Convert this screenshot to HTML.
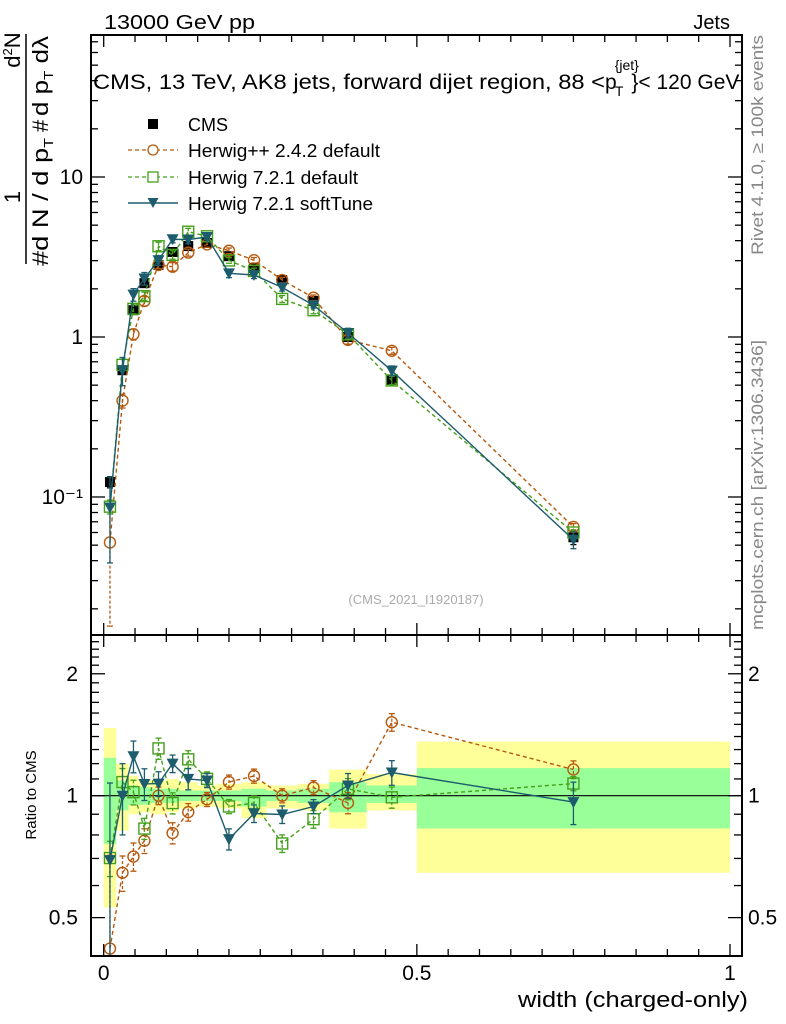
<!DOCTYPE html>
<html><head><meta charset="utf-8">
<style>
html,body{margin:0;padding:0;background:#fff;width:786px;height:1024px;overflow:hidden;}
svg{display:block;font-family:"Liberation Sans",sans-serif;}
</style></head>
<body>
<svg id="chart" width="786" height="1024" viewBox="0 0 786 1024" xmlns="http://www.w3.org/2000/svg">
<defs>
<clipPath id="clipMain"><rect x="91" y="35" width="651" height="600"/></clipPath>
<clipPath id="clipRatio"><rect x="91" y="635" width="651" height="321"/></clipPath>
</defs>
<g id="bands" clip-path="url(#clipRatio)"></g>
<g id="series"></g>
<g id="axes"></g>
<text x="104" y="29" font-size="20" textLength="151" lengthAdjust="spacingAndGlyphs">13000 GeV pp</text>
<text x="730" y="29" font-size="20" text-anchor="end">Jets</text>
<text x="93" y="89" font-size="21"><tspan textLength="512" lengthAdjust="spacingAndGlyphs">CMS, 13 TeV, AK8 jets, forward dijet region, 88 &lt;</tspan><tspan>p</tspan><tspan dy="-19" dx="-2" font-size="14">{jet}</tspan><tspan dx="-24" dy="26" font-size="14">T</tspan><tspan dx="8" dy="-7">}&lt; 120 GeV</tspan></text>
<text x="416" y="604" font-size="13" fill="#aaa" text-anchor="middle">(CMS_2021_I1920187)</text>
<text transform="translate(763,255) rotate(-90)" font-size="17" fill="#888" textLength="220" lengthAdjust="spacingAndGlyphs">Rivet 4.1.0, ≥ 100k events</text>
<text transform="translate(763,630) rotate(-90)" font-size="17" fill="#888" textLength="290" lengthAdjust="spacingAndGlyphs">mcplots.cern.ch [arXiv:1306.3436]</text>
<g>
<text transform="translate(20,197) rotate(-90)" font-size="22" text-anchor="middle">1</text>
<text transform="translate(20,50) rotate(-90)" font-size="22" text-anchor="middle">d<tspan font-size="13" dy="-8">2</tspan><tspan dy="8">N</tspan></text>
<line x1="26" y1="264" x2="26" y2="34" stroke="#000" stroke-width="1.5"/>
<text transform="translate(48,266) rotate(-90)" font-size="22" textLength="128" lengthAdjust="spacingAndGlyphs">#d N / d p<tspan font-size="13" dy="5">T</tspan></text>
<text transform="translate(48,132) rotate(-90)" font-size="22">#</text>
<text transform="translate(48,116) rotate(-90)" font-size="22" textLength="80" lengthAdjust="spacingAndGlyphs">d p<tspan font-size="13" dy="5">T</tspan><tspan dy="-5"> dλ</tspan></text>
</g>
<text transform="translate(36,795) rotate(-90)" font-size="15" text-anchor="middle">Ratio to CMS</text>
<text x="748" y="1007" font-size="22" text-anchor="end" textLength="230" lengthAdjust="spacingAndGlyphs">width (charged-only)</text>
<g>
<g><rect x="148" y="119" width="10" height="10" fill="#000"/><text x="188" y="131" font-size="18">CMS</text></g>
<g><line x1="128" y1="150" x2="178" y2="150" stroke="#b5590e" stroke-dasharray="4,3" stroke-width="1.3"/><circle cx="153" cy="150" r="5" fill="#fff" stroke="#b5590e" stroke-width="1.3"/><text x="188" y="157" font-size="18" textLength="192" lengthAdjust="spacingAndGlyphs">Herwig++ 2.4.2 default</text></g>
<g><line x1="128" y1="177" x2="178" y2="177" stroke="#44a01a" stroke-dasharray="4,3" stroke-width="1.3"/><rect x="148" y="172" width="10" height="10" fill="#fff" stroke="#44a01a" stroke-width="1.3"/><text x="188" y="184" font-size="18" textLength="170" lengthAdjust="spacingAndGlyphs">Herwig 7.2.1 default</text></g>
<g><line x1="128" y1="203" x2="178" y2="203" stroke="#1d5c6c" stroke-width="1.5"/><path d="M147.5,198 L158.5,198 L153,208 Z" fill="#1d5c6c"/><text x="188" y="210" font-size="18" textLength="185" lengthAdjust="spacingAndGlyphs">Herwig 7.2.1 softTune</text></g>
</g>
</svg>
<script>
const binEdges=[0,0.02,0.04,0.055,0.075,0.1,0.12,0.15,0.18,0.22,0.26,0.31,0.36,0.42,0.5,1];
const cmsVals=[0.124,0.62,1.47,2.17,2.82,3.4,3.7,3.87,3.2,2.7,2.27,1.68,1.0,0.54,0.056];
const herwigppVals=[0.052,0.40,1.04,1.68,2.82,2.75,3.37,3.79,3.46,3.02,2.27,1.76,0.96,0.82,0.065];
const herwig721Vals=[0.087,0.67,1.50,1.80,3.69,3.26,4.55,4.26,3.01,2.59,1.73,1.47,1.04,0.535,0.060];
const softTuneVals=[0.086,0.62,1.84,2.32,3.02,4.08,4.07,4.22,2.50,2.44,2.04,1.58,1.06,0.616,0.054];
const herwigppErr=[0.7,0.1,0.08,0.07,0.05,0.06,0.05,0.04,0.04,0.04,0.04,0.04,0.06,0.05,0.05];
const herwig721Err=[0.1,0.08,0.07,0.06,0.06,0.06,0.05,0.04,0.04,0.04,0.05,0.05,0.06,0.06,0.04];
const softTuneErr=[0.55,0.2,0.09,0.09,0.07,0.05,0.06,0.04,0.06,0.05,0.05,0.04,0.07,0.07,0.12];
const cmsErr=[0.08,0.05,0.04,0.04,0.03,0.03,0.03,0.03,0.03,0.03,0.03,0.03,0.04,0.05,0.1];
const bandTotUp=[1.47,1.20,1.12,1.10,1.09,1.10,1.08,1.06,1.07,1.08,1.06,1.07,1.16,1.13,1.36];
const bandTotDn=[0.53,0.82,0.90,0.91,0.90,0.91,0.93,0.94,0.93,0.88,0.93,0.92,0.83,0.92,0.645];
const bandStatUp=[1.24,1.09,1.06,1.05,1.04,1.04,1.03,1.03,1.03,1.04,1.03,1.04,1.08,1.06,1.17];
const bandStatDn=[0.76,0.92,0.95,0.95,0.96,0.96,0.97,0.97,0.97,0.94,0.97,0.96,0.91,0.96,0.83];
const xTicksMajor=[0,0.5,1];
const xTickLabels=["0","0.5","1"];
const yTicksMain=[0.1,1,10];
const yTickLabelsMain=["10\u207B\u00B9","1","10"];
const yTicksRatio=[0.5,1,2];
const yTickLabelsRatio=["0.5","1","2"];

const NS="http://www.w3.org/2000/svg";
const X0=91,X1=742,MT=35,MB=635,RT=635,RB=956;
function xs(v){return 103.7+626.3*v;}
function ym(v){return 337-160*Math.log10(v);}
function yr(v){return 795.7-405*Math.log10(v);}
function mk(tag,attrs,parent){const e=document.createElementNS(NS,tag);for(const k in attrs)e.setAttribute(k,attrs[k]);parent.appendChild(e);return e;}
const axes=document.getElementById('axes');
const bands=document.getElementById('bands');
const ser=document.getElementById('series');

for(let i=0;i<cmsVals.length;i++){
  const x=xs(binEdges[i]),w=xs(binEdges[i+1])-x;
  const a=mk('rect',{x:x,y:yr(bandTotUp[i]),width:w,height:yr(bandTotDn[i])-yr(bandTotUp[i]),fill:'#ffff99'},bands);
  
  
  const b=mk('rect',{x:x,y:yr(bandStatUp[i]),width:w,height:yr(bandStatDn[i])-yr(bandStatUp[i]),fill:'#99ff99'},bands);
  
  
}
const one=mk('line',{x1:X0,x2:X1,y1:yr(1),y2:yr(1),stroke:'#000','stroke-width':1.2},bands);



function frame(t,b,name){const r=mk('rect',{x:X0,y:t,width:X1-X0,height:b-t,fill:'none',stroke:'#000','stroke-width':2},axes);}
frame(MT,MB,'main-plot-frame');frame(RT,RB,'ratio-plot-frame');
function tk(x1,y1,x2,y2){mk('line',{x1,y1,x2,y2,stroke:'#000','stroke-width':1.3},axes);}
for(let k=0;k<=20;k++){
  const v=k*0.05,x=xs(v),maj=xTicksMajor.some(m=>Math.abs(m-v)<1e-6),L=maj?12:7;
  [[MT,1],[MB,-1],[RT,1],[RB,-1]].forEach(([y,d])=>tk(x,y,x,y+d*L));
}
xTicksMajor.forEach((v,i)=>{const t=mk('text',{x:xs(v),y:980,'font-size':21,'text-anchor':'middle'},axes);t.textContent=xTickLabels[i];});
for(let d=-2;d<=1;d++){for(let m=1;m<=9;m++){const v=m*Math.pow(10,d),y=ym(v);if(y<MT||y>MB)continue;const L=m==1?14:7;tk(X0,y,X0+L,y);tk(X1,y,X1-L,y);}}
yTicksMain.forEach((v,i)=>{const t=mk('text',{x:83,y:ym(v)+7,'font-size':21,'text-anchor':'end'},axes);t.textContent=yTickLabelsMain[i];});
for(let k=4;k<=25;k++){const v=k/10,y=yr(v);if(y<RT||y>RB)continue;const maj=(k==5||k==10||k==20);const L=maj?14:8;tk(X0,y,X0+L,y);tk(X1,y,X1-L,y);}
yTicksRatio.forEach((v,i)=>{
  const t=mk('text',{x:78,y:yr(v)+7,'font-size':21,'text-anchor':'end'},axes);t.textContent=yTickLabelsRatio[i];
  const t2=mk('text',{x:748,y:yr(v)+7,'font-size':21},axes);t2.textContent=yTickLabelsRatio[i];
});

function center(i){return (binEdges[i]+binEdges[i+1])/2;}
function drawSeries(vals,errs,color,dash,marker,name,ratio){
  const g=mk('g',{'clip-path':ratio?'url(#clipRatio)':'url(#clipMain)'},ser);
  
  
  const yf=ratio?yr:ym;
  const pv=vals.map((v,i)=>ratio?v/cmsVals[i]:v);
  const pts=pv.map((v,i)=>xs(center(i)).toFixed(1)+','+yf(v).toFixed(1)).join(' ');
  if(marker!=='cms'){const pl=mk('polyline',{points:pts,fill:'none',stroke:color,'stroke-width':1.4},g);if(dash)pl.setAttribute('stroke-dasharray',dash);}
  pv.forEach((v,i)=>{
    const x=xs(center(i)),y=yf(v),lo=Math.max(v*(1-errs[i]),v*0.01),hi=v*(1+errs[i]);
    const eb=mk('line',{x1:x,x2:x,y1:yf(hi),y2:yf(lo),stroke:color,'stroke-width':1.3},g);if(dash)eb.setAttribute('stroke-dasharray','3,2');
    mk('line',{x1:x-3,x2:x+3,y1:yf(hi),y2:yf(hi),stroke:color,'stroke-width':1.3},g);
    mk('line',{x1:x-3,x2:x+3,y1:yf(lo),y2:yf(lo),stroke:color,'stroke-width':1.3},g);
    let m;
    if(marker==='cms')m=mk('rect',{x:x-5,y:y-5,width:10,height:10,fill:'#000'},g);
    else if(marker==='circle')m=mk('circle',{cx:x,cy:y,r:5.5,fill:'none',stroke:color,'stroke-width':1.4},g);
    else if(marker==='square')m=mk('rect',{x:x-5.5,y:y-5.5,width:11,height:11,fill:'none',stroke:color,'stroke-width':1.4},g);
    else m=mk('path',{d:`M${x-6},${y-5} L${x+6},${y-5} L${x},${y+6} Z`,fill:color},g);
    
    
  });
}
drawSeries(cmsVals,cmsErr,'#000',null,'cms','cms-data',false);
drawSeries(herwigppVals,herwigppErr,'#b5590e','4,3','circle','herwigpp-242',false);
drawSeries(herwig721Vals,herwig721Err,'#44a01a','4,3','square','herwig-721-default',false);
drawSeries(softTuneVals,softTuneErr,'#1d5c6c',null,'tri','herwig-721-softtune',false);
drawSeries(herwigppVals,herwigppErr,'#b5590e','4,3','circle','herwigpp-242',true);
drawSeries(herwig721Vals,herwig721Err,'#44a01a','4,3','square','herwig-721-default',true);
drawSeries(softTuneVals,softTuneErr,'#1d5c6c',null,'tri','herwig-721-softtune',true);
</script>
</body></html>
